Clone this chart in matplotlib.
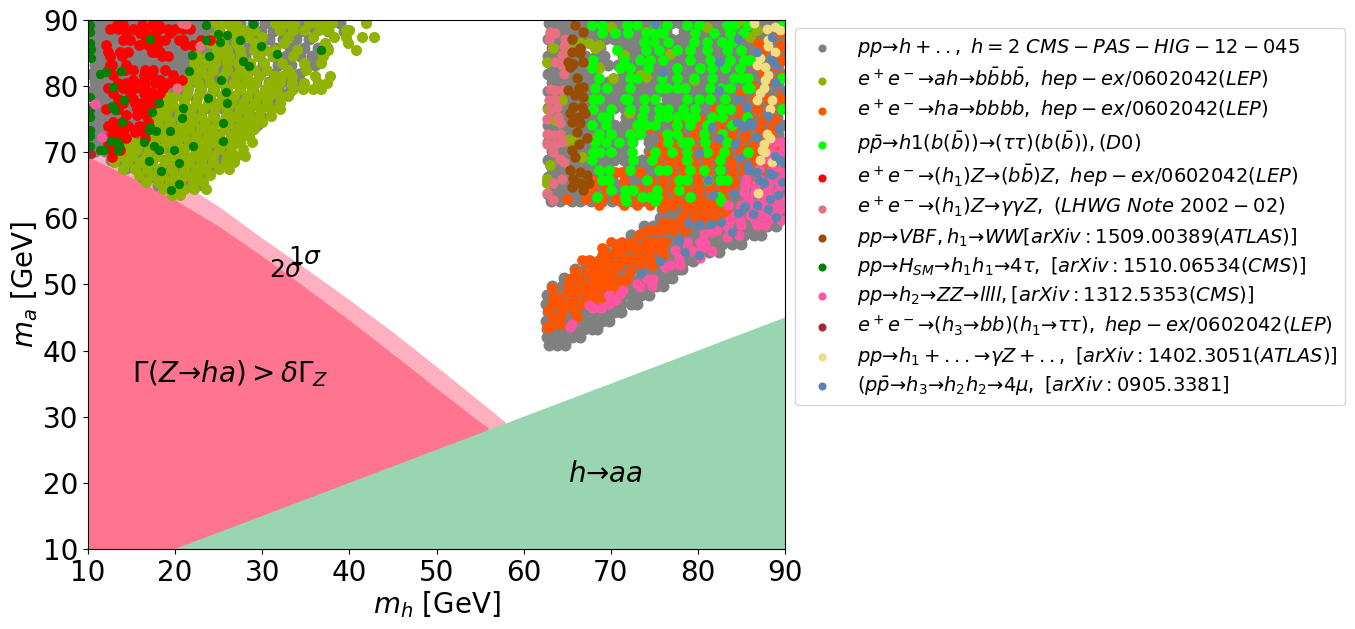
import numpy as np
import matplotlib
matplotlib.use('Agg')
import matplotlib.pyplot as plt

# excluded regions, boundaries
sigma1_x = [10, 15, 20, 25, 30, 35, 40, 45, 50, 55, 57.9]
sigma1_y = [71, 69, 66, 61.8, 57, 52.4, 47.7, 42.8, 37.6, 32.3, 29.2]
sigma2_x = [10, 15, 20, 25, 30, 35, 40, 45, 50, 55, 55.9]
sigma2_y = [69.3, 66.2, 62.8, 58.8, 54.3, 49.5, 44.6, 39.5, 34.3, 29.2, 28.4]
haa_x = [20, 90, 90]
haa_y = [10, 45, 10]

# points by row, {m_a: [m_h, ...]}
gray_left = {
    89.6: [10.4, 11.5, 12.6, 13.7, 14.8, 15.8, 16.9, 18, 19.1, 20.2, 21.2, 22.3, 23.4, 24.5, 25.9, 27.4, 28.9, 30.3, 31.8, 33.3, 34.7, 36.2, 38.9],
    88.4: [10.8, 11.9, 13, 14.1, 15.2, 16.2, 17.3, 18.4, 19.5, 20.6, 21.6, 22.7, 23.8, 25, 26.6, 28.3, 29.8, 31.2, 32.9, 34.4, 36, 37.6, 39.4],
    87.1: [10.4, 11.5, 12.6, 13.7, 14.8, 15.8, 16.9, 18, 19.1, 20.2, 21.2, 22.3, 23.4, 24.6, 26, 27.6, 29.2, 30.8, 32.4, 33.9, 35.4],
    85.8: [10.8, 11.9, 13, 14.1, 15.2, 16.2, 17.3, 18.4, 19.5, 20.6, 21.6, 22.7, 23.8, 25.2, 26.8, 28.4, 30, 31.5, 33.2, 34.8, 36.4, 37.4],
    84.5: [10.4, 11.5, 12.6, 13.7, 14.8, 15.8, 16.9, 18, 19.1, 20.2, 21.2, 22.3, 23.4, 24.8, 26.4, 28, 29.6, 31.2, 32.7, 34.3, 35.7, 36.6],
    83.2: [10.8, 11.9, 13, 14.1, 15.2, 16.2, 17.3, 18.4, 19.5, 20.6, 21.6, 22.7, 23.8, 25.4, 27, 28.5, 30.1, 31.8, 33.3, 34.9, 36],
    81.9: [10.4, 11.5, 12.6, 13.7, 14.8, 15.8, 16.9, 18, 19.1, 20.2, 21.2, 22.3, 23.6, 25, 26.5, 28.1, 29.7, 31.3, 32.8, 34.2],
    80.6: [10.8, 11.9, 13, 14.1, 15.2, 16.2, 17.3, 18.4, 19.5, 20.6, 21.8, 23.2, 24.7, 26.2, 27.7, 29.3, 30.8, 32.3, 33.6],
    79.3: [10.4, 11.5, 12.6, 13.7, 14.8, 15.8, 16.9, 18, 19.1, 20.2, 21.4, 22.8, 24.4, 25.8, 27.4, 28.9, 30.4, 31.9, 33.2],
    78: [10.8, 11.9, 13, 14.1, 15.2, 16.2, 17.3, 18.4, 19.6, 21, 22.4, 24, 25.5, 27, 28.6, 30.1, 31.4],
    76.7: [10.4, 11.5, 12.6, 13.7, 14.8, 15.8, 16.9, 18, 19.4, 20.9, 22.4, 23.9, 25.4, 26.9, 28.4, 29.8, 31],
    75.4: [10.8, 11.9, 13, 14.1, 15.2, 16.2, 17.3, 18.6, 20, 21.5, 23, 24.5, 26, 27.5, 28.9, 30],
    74.1: [10.4, 11.5, 12.6, 13.7, 14.8, 15.8, 16.9, 18.2, 19.7, 21.2, 22.7, 24.2, 25.7, 27.2, 28.6, 29.4],
    72.8: [10.8, 11.9, 13, 14.1, 15.2, 16.2, 17.4, 18.9, 20.4, 21.9, 23.4, 24.9, 26.4, 27.6],
    71.5: [10.4, 11.5, 12.6, 13.7, 14.8, 15.8, 17, 18.5, 20, 21.5, 23, 24.5, 26, 27],
    70.2: [10.8, 11.9, 13, 14.1, 15.2, 16.4, 17.9, 19.4, 20.9, 22.4, 23.9, 25.4, 26.2],
    68.9: [12.6, 13.7, 14.8, 16, 17.4, 18.9, 20.4, 21.9, 23.4, 24.9],
    67.6: [14.4, 15.6, 17, 18.5, 20, 21.5, 23, 24.2],
    66.3: [16.2, 17.6, 19, 20.4, 21.8, 23],
    65: [18, 19.2, 20.4, 21.6, 22.6],
}
gray_right = {
    89.6: [62.9, 64, 65.1, 66.1, 67.2, 68.3, 69.4, 70.4, 71.5, 72.6, 73.6, 74.7, 75.8, 76.9, 78, 79, 80.1, 81.2, 82.3, 83.3, 84.4, 85.5, 86.5, 87.6, 88.7, 89.7],
    88.4: [63.2, 64.4, 65.5, 66.6, 67.6, 68.7, 69.8, 70.9, 72, 73, 74.1, 75.2, 76.3, 78.4, 79.5, 80.6, 81.7, 82.7, 83.8, 84.9, 86, 87, 88.1, 89.2],
    87.1: [62.8, 63.9, 65, 66.1, 67.2, 68.2, 69.3, 70.4, 71.5, 72.5, 73.6, 74.7, 75.8, 76.9, 77.9, 79, 80.1, 81.2, 82.2, 83.3, 84.4, 85.5, 86.5, 87.6, 88.7, 89.8],
    85.8: [63.2, 64.3, 65.4, 66.5, 68.8, 71, 72.1, 73.1, 74.2, 75.3, 76.4, 77.4, 78.5, 79.6, 80.7, 81.7, 82.8, 83.9, 85, 86, 87.1, 88.2, 89.3],
    84.5: [62.8, 63.9, 65, 66.1, 67.1, 68.3, 69.2, 71.4, 72.5, 73.6, 74.7, 75.8, 76.8, 77.9, 79, 80.1, 81.2, 82.2, 83.3, 84.4, 85.5, 86.5, 87.6, 88.7, 89.8],
    83.2: [63.2, 64.3, 65.4, 66.5, 67.6, 68.6, 69.7, 70.8, 71.9, 73, 74, 75.1, 76.2, 77.3, 78.4, 79.4, 80.5, 81.6, 82.7, 83.8, 84.8, 85.9, 87, 88.1, 89.2],
    81.9: [62.8, 63.9, 65, 66.1, 67.1, 68.2, 71.4, 72.5, 73.6, 74.6, 75.7, 76.8, 77.9, 79, 80, 81.1, 82.2, 83.3, 84.4, 85.4, 86.5, 87.6, 88.7, 89.8],
    80.6: [63.2, 64.3, 65.4, 66.5, 67.6, 68.7, 69.7, 70.8, 71.9, 73, 74.1, 75.1, 76.2, 77.3, 78.4, 79.5, 80.5, 81.6, 82.7, 83.8, 84.9, 85.9, 87, 88.1, 89.2],
    79.3: [62.8, 63.9, 65, 66.1, 67.2, 68.2, 69.3, 70.4, 71.5, 72.6, 73.6, 74.7, 75.8, 76.9, 78, 79, 80.1, 81.2, 82.3, 83.4, 84.4, 85.5, 86.6, 87.7, 88.8, 89.8],
    78: [63.2, 64.3, 65.4, 66.5, 67.6, 68.6, 69.7, 70.8, 71.9, 73, 74, 76.5, 77.3, 78.4, 79.4, 80.5, 81.6, 82.7, 83.8, 84.8, 85.9, 87, 88.1, 89.2],
    76.7: [62.8, 63.9, 65, 66.1, 67.2, 68.2, 69.3, 70.4, 71.5, 72.6, 73.6, 74.7, 75.8, 76.9, 78, 79, 80.1, 81.2, 82.3, 83.4, 84.4, 85.5, 86.6, 87.7, 88.8, 89.8],
    75.4: [63.2, 64.3, 65.4, 66.5, 67.6, 68.6, 69.7, 71.8, 72.9, 74, 75.1, 76.2, 77.2, 78.3, 79.4, 80.5, 81.6, 82.6, 83.7, 84.8, 85.9, 87, 88, 89.1],
    74.1: [62.8, 63.9, 65, 66.1, 67.2, 68.2, 69.3, 70.4, 71.5, 72.6, 73.6, 74.7, 75.8, 76.9, 78, 79, 80.1, 81.2, 82.3, 83.4, 84.4, 85.5, 86.6, 87.7, 88.8, 89.8],
    72.8: [63.2, 64.3, 65.4, 66.5, 67.6, 68.6, 69.7, 70.8, 71.9, 73, 74, 75.1, 76.2, 77.3, 78.4, 79.4, 80.5, 81.6, 82.7, 83.8, 84.8, 85.9, 87, 88.1, 89.2],
    71.5: [62.8, 63.9, 65, 66.1, 67.2, 68.2, 69.3, 70.4, 71.5, 72.4, 74.4, 75.5, 76.6, 77.7, 78.7, 79.8, 80.9, 82, 83.1, 84.1, 85.2, 86.3, 87.4, 88.5, 89.6],
    70.2: [63.2, 64.3, 65.4, 66.5, 67.6, 68.6, 69.7, 70.8, 71.9, 74.4, 75.1, 76.2, 77.3, 78.4, 79.4, 80.5, 81.6, 82.7, 83.8, 84.8, 85.9, 87, 88.1, 89.2],
    68.9: [62.8, 63.9, 65, 66.1, 67.2, 68.2, 69.3, 70.4, 71.5, 72.6, 73.6, 74.7, 75.8, 76.9, 78, 79, 80.1, 81.2, 82.3, 83.4, 84.4, 85.5, 86.6, 87.7, 88.8, 89.8],
    67.6: [63.2, 64.3, 65.4, 66.5, 67.6, 68.6, 69.7, 72, 73, 74, 75.1, 76.2, 77.3, 78.4, 79.4, 80.5, 81.6, 82.7, 83.8, 84.8, 85.9, 87, 88.1, 89.2],
    66.3: [62.8, 63.9, 65, 66.1, 67.2, 68.2, 69.3, 70.2, 71.8, 72.6, 73.6, 74.7, 75.8, 76.9, 78, 79, 80.1, 81.2, 82.3, 83.4, 84.4, 85.5, 86.6, 87.7, 88.8, 89.8],
    65: [63.2, 64.3, 65.4, 66.5, 67.6, 68.6, 69.7, 70.8, 71.9, 73, 74, 75.1, 76.2, 77.3, 78.4, 79.4, 80.5, 81.6, 82.7, 83.8, 84.8, 85.9, 87, 88.1, 89.2],
    63.7: [62.8, 63.9, 65, 66.1, 67.2, 68.2, 69.3, 70.4, 71.5, 72.6, 73.6, 74.7, 75.8, 76.9, 78, 79, 80.1, 81.2, 82.3, 83.4, 84.4, 85.5, 86.6, 87.7, 88.8, 89.8],
    62.6: [63.1, 64.2, 65.6, 66.5, 67.7, 69, 70.1, 71.2, 72.4, 73.5, 74.6, 75.6, 76.7, 77.8, 78.9, 80, 81, 82.1, 83.2, 84.3, 85.4, 86.4, 87.5, 88.6, 89.7],
    61.4: [75.9, 77, 78.1, 79.2, 80.2, 81.3, 82.4, 83.5, 84.6, 85.6, 86.7, 87.8, 88.9, 89.9],
    60.1: [75.7, 76.6, 77.7, 78.8, 79.8, 80.9, 82, 83.1, 84.2, 85.2, 86.3, 87.4, 88.5, 89.6],
    58.8: [73.8, 74.9, 76, 77.1, 78.2, 79.2, 80.3, 81.4, 82.5, 83.6, 84.6, 85.7, 86.8, 87.9, 89],
    57.5: [72.3, 73.4, 74.5, 75.6, 76.7, 77.7, 78.8, 79.9, 81, 82, 83.1, 84.2, 85.3, 86.4, 87.2],
    56.2: [70.9, 72, 73.1, 74.2, 75.2, 76.3, 77.4, 78.5, 79.6, 80.6, 81.7, 82.8, 83.9, 85],
    54.9: [69.4, 70.5, 71.6, 72.7, 73.8, 74.8, 75.9, 77, 78.1, 79.2, 80.2, 81.3, 82.4],
    53.6: [67.6, 68.7, 69.8, 70.9, 72, 73, 74.1, 75.2, 76.3, 77.4, 78.4, 79.4],
    52.3: [65.9, 67, 68.1, 69.2, 70.2, 71.3, 72.4, 73.5, 74.6, 75.6, 76.7, 77.8, 78.2],
    51: [64.6, 65.7, 66.8, 67.9, 68.9, 70, 71.1, 72.2, 73.3, 74.3, 75.4, 76.4, 77],
    49.7: [63.3, 64.4, 65.5, 66.6, 67.6, 68.7, 69.8, 70.9, 72, 73, 74.1, 75.2, 76],
    48.4: [62.7, 63.8, 64.9, 66, 67, 68.1, 69.2, 70.3, 71.4, 72.4, 73.5, 74.4],
    47.1: [62.6, 63.7, 64.8, 65.8, 66.9, 68, 69.1, 70.2, 71.2, 72.3, 73],
    45.8: [62.8, 63.9, 65, 66, 67.1, 68.2, 69.3, 70.4, 71.2],
    44.5: [62.6, 63.6, 64.6, 65.7, 66.8, 67.9, 69, 69.8],
    43.2: [62.7, 63.7, 64.8, 65.8, 66.9, 67.8, 68.4],
    42: [62.7, 63.6, 64.6, 65.6, 66.5],
    40.8: [62.9, 63.8, 64.8],
}
olive_left = {
    89.5: [24.6, 25.8, 27, 31.5, 32.6, 33.6, 35.4, 36.4, 37, 38, 41.9],
    88.5: [25, 26.5, 27.8, 29, 32, 33.5, 34.8, 36.5, 37.6, 39.6, 40],
    87.5: [24.5, 25.5, 27, 28.5, 30, 33, 35.8, 38.2, 39.6, 41.5, 42.8],
    86.5: [24, 25.5, 27, 29.2, 32.5, 37.2, 39.8],
    85.5: [24.8, 26, 27.5, 29, 30.3, 31.5, 34, 37.6, 40.8],
    84.5: [22.5, 23.8, 25, 26.2, 27.6, 29.5, 31.2, 33.5, 37],
    83.5: [22.2, 23.4, 24.6, 26, 27.2, 28.6, 30.2, 32.3, 34.8, 36.8],
    82.5: [22, 23, 24.4, 26, 27.4, 29, 30.5, 33, 35],
    81.5: [21.6, 22.5, 23.8, 25.5, 27, 28.3, 29.6, 31.5, 32.3, 33.4, 36, 37.8],
    80.5: [21.4, 22.6, 24, 25.4, 26.8, 28, 29.2, 30.8, 32, 33.4, 34.8, 36.4, 37.4],
    79.5: [21.5, 23, 24.5, 26, 27.4, 28.8, 30.3, 31.6, 33.5, 34.7, 35.8, 36.8],
    78.5: [18.9, 20, 21.2, 22.6, 24, 25.4, 26.8, 28.2, 29.6, 30.8, 32, 33],
    77.5: [18.4, 19.6, 21, 22.4, 23.8, 25, 26.4, 27.8, 29.2, 30.6, 32],
    76.5: [18, 19.2, 20.4, 21.8, 23.2, 24.6, 26, 27.4, 28.6, 29.8, 31, 32],
    75.5: [17.8, 19, 20.4, 21.8, 23, 24.4, 25.8, 27, 28.4, 29.6, 31],
    74.5: [18, 19.4, 20.8, 22, 23.4, 24.8, 26.2, 27.6, 28.8, 30],
    73.5: [17.6, 19, 20.4, 21.6, 23, 24.2, 25.6, 27, 28.2, 29],
    72.5: [17.2, 18.4, 19.8, 21, 22.4, 23.8, 25, 26.4, 27.6, 28.5],
    71.5: [15, 16.2, 17.6, 19, 20.2, 21.6, 23, 24.2, 25.6, 26.6, 27.5, 28.8],
    70.5: [14.4, 15.6, 17, 18.4, 19.8, 21, 22.4, 23.6, 25, 26.4, 27.8],
    69.5: [13.8, 15, 16.6, 18, 19.4, 20.8, 22, 23.2, 24.4, 26, 27, 28],
    68.5: [13, 14.5, 16, 17.4, 18.8, 20.2, 21.6, 23, 24.4, 25.8, 26.8],
    67.5: [14, 15.4, 16.8, 18.2, 19.6, 21, 22.4, 23.6, 25, 26.2],
    66.5: [15.8, 17.2, 18.6, 20, 21.4, 22.6, 24],
    65.5: [16.6, 18, 19.4, 20.6, 22, 23.2],
    64.5: [18.6, 19.8, 21, 22.2, 23.6],
    63.5: [19.6, 20.6],
}
olive_x = [63.4, 62.65, 62.85, 63.05, 62.65, 62.65, 64.4, 65.35, 66.5, 68.6, 68.2, 70, 67.45, 68.6, 70.3, 71.5, 74, 74, 73.4, 76.8, 72.05, 79.5, 65.75, 68.4, 63.6, 65.15, 66.7, 86.8, 81, 84.5, 86, 85.25]
olive_y = [85.7, 83.7, 76.6, 68.05, 65.3, 66, 77.9, 85.45, 86.45, 86.2, 85.7, 89, 86.45, 82.7, 81.2, 84.7, 88.2, 81.4, 81.7, 84.9, 75.9, 80.9, 71.8, 72.3, 74.85, 71.8, 69.3, 88.5, 89, 89.7, 87.5, 90]
orange_rows = {
    88: [89.5], 87.5: [88.5], 86.5: [86.9], 86: [89.5], 85.5: [87.5], 85: [88.8], 84: [89.6], 83.5: [86.5], 83: [88.7], 82: [87.5],
    81.5: [89.7], 81: [88.5], 80: [86.3], 79: [85, 89.6],
    78: [85, 86.5, 88, 89.5],
    76.5: [82, 83.5, 85, 86.8, 88.3, 89.5],
    75: [77.3, 78.8, 80.3, 81.7, 83, 84.5, 86, 87.5, 88.8],
    73.7: [73, 74.5, 77.6, 79.6, 81, 82.5, 84, 85.5, 87, 88.5],
    72.4: [76, 78, 79.6, 80.8, 82.4, 83.8, 85.4, 87, 88.4],
    71: [75.8, 77.4, 79.2, 80.6, 82, 83.4, 84.8, 86.3, 87.8, 89],
    69.7: [74.6, 76.2, 77.6, 79, 80.4, 81.8, 83.4, 84.8, 86.2, 87.6, 89],
    68.4: [75.4, 76.8, 78, 79.6, 81, 82.4, 83.8, 85.2, 86.6, 88],
    67: [70.5, 71.2, 73.4, 75.8, 77, 78.4, 79.8, 81.2, 82.6, 84, 85.4, 87],
    65.7: [68, 69, 71.5, 74.6, 76, 77.4, 78.8, 80, 81.4, 82.8, 84.2, 85.6],
    64.4: [67.8, 69.4, 71.8, 73.2, 74.6, 75.9, 77.2, 78.6, 80, 81.4, 82.8, 84],
    63: [65, 67.2, 69, 70.6, 72, 73.4, 74.8, 76.2, 77.6, 79, 80.4, 81.8, 83],
    62: [68.6, 71.5, 73, 74.5, 76, 77.2, 78.6, 80, 81.4, 83],
    61.5: [76, 78.7, 79.9, 81, 82.2, 83.3],
    60.25: [78.2, 79.5, 80.65, 81.8, 83],
    59.25: [76.05, 76.8, 78],
    58.2: [74.3, 75.1, 75.9, 77.2, 78.55],
    57.7: [73.4],
    56.5: [70, 71.3, 72.6, 74, 74.7, 75.5, 76.25],
    55.5: [69, 70.7, 71.85, 73, 74, 75.1, 75.9],
    54.45: [69, 70, 71.1, 73, 74.3, 76.05],
    53.7: [66.7, 67.45, 68.6, 69.55, 71.45, 72.2, 73.4, 74.5],
    53: [68, 69, 70.1, 70.9, 73.4, 74.7],
    52: [65.9, 67.25, 68.4, 69.4, 70.3, 72.2],
    50.9: [65.35, 66.5, 68, 69, 70, 71.3, 71.85],
    49.9: [65.15, 67.45, 68.4, 69.4, 70.7, 71.3],
    49.4: [63.25, 65.5, 66.5, 67.65, 68.8, 69.75],
    48.9: [64.95, 66.1, 67.25, 68.2, 70.3],
    47.9: [63.4, 64, 65.75, 67.25, 68.4, 69.4],
    47.1: [63.4, 64.6, 65.35, 66.7, 68],
    46.1: [62.85, 64.4, 65.75],
    45.1: [63.25, 64.2, 66.1],
    44.1: [64.2],
    43.6: [62.65, 63.05],
}
lime_rows = {
    89.2: [67.8, 69, 71.85, 73, 75.1, 76.4, 78.7, 80.1, 83.3, 84.1, 85.8, 89.8],
    88: [69, 70.5, 72, 74, 75.1, 76.05, 79.7, 81.8, 83.7, 85.2],
    86.7: [73.8, 75, 76.6, 79.5, 81, 83.9, 82.75],
    85.45: [70.7, 74, 75.5, 77.6, 79.1, 81, 83.3, 84.9],
    83.9: [68, 71.5, 73.4, 74.5, 76.05, 79.1, 81.4, 83.7, 85.25, 86],
    82.7: [67.8, 71.1, 72.2, 74.3, 77.6, 80.3, 81.6, 83.1, 84.85],
    81.2: [68.6, 72.2, 73, 75.9, 77.6, 79.5, 81.6, 84.1, 85.05, 85.8, 89.6],
    79.65: [68.2, 69.55, 72.2, 75.7, 76.45, 77.6, 78.55, 81.4, 82.6, 83.7, 85.6, 86],
    78.1: [68, 68.6, 71.65, 72, 75.1, 73.8, 78.7, 80.1, 81.4, 83.1],
    76.6: [68, 70, 72.2, 73.8, 75.5, 76.6, 78.35, 79.7, 82.6, 83.7, 89.6],
    75.4: [69, 69.55, 73.55, 75.5, 76.45, 77.6, 78.7, 79.7, 81.6, 82.75, 85.6],
    74.1: [67.8, 69.4, 73, 74, 75.1, 77.6, 79.1, 81, 83.9],
    72.8: [68.6, 70, 72.2, 73.4, 76.45, 77.6, 80.65, 82.75],
    71.6: [68.2, 69.4, 70.9, 72.4, 76.6, 78.2, 79, 80.85, 83.3],
    70.05: [68, 68.8, 70, 72.4, 75.1, 77, 78.7, 81, 82.95, 85.8],
    68.8: [67.8, 72.6, 74.7, 82.55, 78.7],
    67.3: [68.6, 69.75, 72.2, 75.5, 76.45, 79.1, 80.65, 82.55],
    65.8: [69, 69.75, 74.15, 77.8, 78.7, 81.2, 82.55, 83.3],
    64.3: [70, 71.65, 72.6, 75.3, 77.8],
    63.25: [68.4, 71.65, 73.55, 74.5, 75.3, 79.1, 82.4],
    62.7: [71.8, 75.1, 82.6],
}
red_rows = {
    89.2: [13.3, 14, 16.2, 17.3, 18.1],
    88.7: [12.5, 13.5, 15.2, 16.2, 18.1, 19.2, 20, 20.9, 21.7],
    88: [14.4, 16, 16.5, 17.7, 19.4],
    87: [14.8, 14, 16.7, 18, 18.8, 20.4, 20.9, 23, 24],
    86.2: [12.1, 15.8, 16.9, 17.9, 21.1, 22.1],
    85.2: [12.3, 13.7, 14.6, 17.3, 18.3, 17.7],
    84.5: [12.5, 13.9, 18.5, 19.2],
    83.2: [12.5, 14.4, 12.7],
    82.4: [12.3, 14.2, 15.2, 16.5, 17.5, 18.8],
    81.7: [12.9, 16.4, 17.3, 19.8],
    80.9: [15.2, 16.4, 18.3, 20.8],
    80.4: [13.5, 14.4, 15.4, 16.5, 17.7, 19.2, 20],
    79.7: [12.3, 14, 15.4, 16.5, 18.6],
    78.9: [12.9, 14.8, 16.4, 17.3, 18.3],
    78.1: [13.5, 15.2, 16.9, 17.9],
    77.4: [14, 15.4, 16.2, 17.1, 17.7],
    76.6: [12.1, 13.5, 15.6, 16.5],
    75.6: [14.4, 15.6, 16.7],
    74.6: [12.9, 13.9, 16.9],
    73.9: [12.3, 13.3, 14.6, 15.8, 16.7],
    73.1: [12.9, 14, 15.4, 16.4],
    72.1: [12.1, 13.3, 14.4, 16.5],
    71.3: [12.3, 13.1],
    70.3: [12.7, 13.7],
    69.3: [12.7],
}
salmon_x = [63, 63.6, 62.9, 64.8, 64.6, 64.4, 63.6, 64.4, 64.6, 63, 63.6, 64.4, 62.9, 63.6, 63.8, 63.05, 62.7, 64, 64.2, 62.7, 63.4, 64.2, 62.7, 63.6, 64.4, 63.4, 64.2, 64.6, 63.4, 64.4, 62.7, 63.4, 20.75, 21.3, 20.2, 22.8]
salmon_y = [88.2, 88, 87.2, 87.2, 86, 84.7, 83.7, 83.2, 81.9, 79.6, 79.4, 79.4, 77.9, 78.1, 76.9, 76.4, 75.1, 75.4, 74.4, 72.8, 72.6, 72.8, 71.3, 71.3, 71.6, 70, 69, 68.55, 65.3, 66, 63.8, 62.8, 89.5, 89.4, 79.7, 86]
brown_x = [65.9, 66.87, 65.53, 65.53, 66.5, 66.5, 65.15, 65.7, 66.87, 65.35, 66.1, 65.15, 66.3, 66.87, 65.9, 66.87, 65.7, 66.7, 65.35, 66.3, 67.06, 65.53, 66.5, 66.1, 67.26, 66.3, 65.53, 65.9, 65.35, 66.5, 65.7, 67.26, 66.5, 67.45, 65.53, 66.87]
brown_y = [89.2, 88.2, 87.2, 85.2, 85.7, 85, 83.7, 83.4, 83.7, 82.9, 81.2, 79.4, 79.65, 79.9, 78.6, 78.4, 76.9, 76.9, 75.9, 75.4, 75.9, 74.6, 74.35, 73.1, 72.1, 71.3, 70.3, 69.3, 67.3, 67, 66, 66.5, 65.3, 65.3, 64.8, 64.3]
green_x = [10.2, 10.2, 10.2, 10.3, 10.4, 10.2, 10.2, 10.2, 10.2, 10.2, 10.2, 11.4, 12.1, 13.8, 12.9, 14.1, 12.8, 13.1, 13.85, 12.5, 13.3, 13.6, 13.5, 11.4, 11.8, 17.1, 23.55, 24.9, 26, 25.1, 23.6, 28.98, 27.5, 29.9, 31.7, 36.8, 21.9, 23.9, 27.8, 28.5, 21.6, 25.3, 25.8, 23.8, 26, 18.15, 17.4, 20.9, 20.8, 25.5, 17.1, 17, 17.8, 19.45, 16.4, 17.6, 18.15, 19.9, 22, 25.55, 17, 20.4, 18.4, 20.5, 19.5]
green_y = [89.2, 88.2, 86.5, 85.55, 84.3, 78.4, 76.4, 75.4, 73.4, 72.4, 70.9, 81.8, 82.1, 82.3, 79.8, 77.9, 77, 76.4, 74.5, 71.7, 71.6, 71.1, 70.3, 70.3, 70.4, 87.2, 89.2, 87.9, 87.8, 86.7, 87, 89.4, 86.9, 86.1, 84.8, 85.5, 84.7, 84.55, 83.85, 83.1, 82.3, 80.9, 79.05, 78.25, 77.4, 77.4, 76.1, 76.75, 75.2, 74.45, 73.85, 73.35, 73.2, 73.15, 71.6, 70.9, 70.4, 70.4, 71, 71.65, 68.7, 68.35, 67.2, 65.2, 64.3]
pink_rows = {
    71.5: [89.5, 88.7], 70: [89.6, 88.5], 69: [89.2, 87.8], 67.5: [87, 88.5, 89.6],
    66: [85.5, 87, 88.5, 89.7], 65: [85.4, 86.6, 88, 89.4], 64: [85.3, 86.5, 87.8, 89],
    63: [85.8, 87.2, 88.4, 89.7], 62: [83.5, 85, 86.3, 87.7, 89],
    61.5: [85, 86.6, 88.2, 89.6], 60.5: [84.3, 86, 87.5, 89], 59.7: [83.7, 84.8, 86.5, 88, 89.5],
    59: [83.3, 85, 86.8, 87.7], 58.7: [83.5], 58.2: [82.2], 58: [81.6], 57.7: [80.65], 57.5: [84.7], 57.2: [83.3],
    56.5: [78.7, 80.3], 56.2: [80.85], 55.5: [80.45, 78.7], 55.2: [77.4], 55: [79.3, 81.6],
    54: [77.8, 80.3], 53: [76.8, 78], 52.6: [76.25], 50.9: [74.15, 74.85], 50: [73], 49.8: [74.7], 49.65: [73.4],
    49.15: [71.4], 48.55: [71.1], 48.4: [69.8], 47.6: [70.6], 47.1: [69.8], 46.9: [67.45], 46.4: [68, 68.9],
    44.1: [65.5], 43.5: [65.35], 77.3: [10.8], 72.35: [11.6],
}
darkred_x = [10.4]
darkred_y = [69.7]
khaki_x = [86.4, 87.95, 88.9, 89.45, 88.1, 87.15, 86.8, 87.7, 88.9, 88.1, 88.1, 87.7, 87.55, 87.15, 86.8, 88.5, 88.3, 87.9, 87.55, 88.3, 87.35, 87.7, 87.15, 88.5, 86.95]
khaki_y = [89.5, 88.7, 89, 88.5, 87, 84.2, 83.2, 82.9, 85.2, 86, 81.7, 80.9, 79.65, 78.9, 77.9, 77.9, 76.6, 72.8, 71.3, 72.1, 70.3, 70.1, 68.8, 68.55, 63.8]
blue_x = [75.1, 84.55, 88.5, 86.8, 82.4, 75.9, 88.5, 88.9, 88.9, 90, 82.45, 84.8, 85.55, 88, 84.5, 85.25, 86, 86.2, 89.3, 81.6, 86.8, 82.4, 84.3, 80.1, 84.8, 88.9, 89.45, 89.85, 85.8, 85.8, 86.8, 88.3, 87, 87.55, 88.5, 81.2, 89.65, 84.1, 81.7, 85.25, 86.8, 88.3, 89.25, 85.45, 88.1, 89, 84.55, 86.3, 78.85, 80.15, 81.5, 82.65, 83.9, 77.8, 78.5, 80.15, 75.7, 73.5]
blue_y = [89.4, 87.1, 87.5, 85.1, 83.7, 82.2, 83.9, 83.2, 80.6, 79.4, 79.4, 78, 76.9, 75.5, 74.5, 73.85, 74.6, 74.1, 73.6, 73.75, 72.3, 72.1, 71.3, 69.9, 69.2, 69.5, 68.8, 68.3, 68.05, 67.3, 67.05, 66.8, 65.8, 65.3, 66.5, 65.8, 65.5, 63.8, 63.6, 61.75, 62, 63, 63.5, 61.9, 61.35, 60.15, 60.75, 60.65, 59.35, 59.15, 59.1, 59.4, 58, 56.6, 54.85, 54.4, 53.55, 51.8]

# literal arrows: \to gets extra space around it in mathtext
labels = [
    r'$pp→h + ..,\ h = 2\ CMS-PAS-HIG-12-045$',
    r'$e^+e^-→ah→b\bar{b}b\bar{b},\ hep-ex/0602042(LEP)$',
    r'$e^+e^-→ha→bbbb,\ hep-ex/0602042(LEP)$',
    r'$p\bar{p}→h1(b(\bar{b}))→(\tau\tau)(b(\bar{b})),(D0)$',
    r'$e^+e^-→(h_1)Z→(b\bar{b})Z,\ hep-ex/0602042(LEP)$',
    r'$e^+e^-→(h_1)Z→\gamma\gamma Z,\ (LHWG\ Note\ 2002-02)$',
    r'$pp→VBF,h_1→WW[arXiv:1509.00389(ATLAS)]$',
    r'$pp→H_{SM}→h_1h_1→4\tau,\ [arXiv:1510.06534(CMS)]$',
    r'$pp→h_2→ZZ→llll,[arXiv:1312.5353(CMS)]$',
    r'$e^+e^-→(h_3→bb)(h_1→\tau\tau),\ hep-ex/0602042(LEP)$',
    r'$pp→h_1+...→\gamma Z+..,\ [arXiv:1402.3051(ATLAS)]$',
    r'$(p\bar{p}→h_3→h_2h_2→4\mu,\ [arXiv:0905.3381]$',
]
ticks = [10, 20, 30, 40, 50, 60, 70, 80, 90]


def unpack(rows):
    xs = [x for y in rows for x in rows[y]]
    ys = [y for y in rows for x in rows[y]]
    return xs, ys


gl_x, gl_y = unpack(gray_left)
gr_x, gr_y = unpack(gray_right)
ol_x, ol_y = unpack(olive_left)
or_x, or_y = unpack(orange_rows)
li_x, li_y = unpack(lime_rows)
re_x, re_y = unpack(red_rows)
pi_x, pi_y = unpack(pink_rows)

series = [
    (gl_x + gr_x, gl_y + gr_y, 'gray', 74),
    (ol_x + olive_x, ol_y + olive_y, '#8fb300', 64),
    (or_x, or_y, '#ff5500', 60),
    (li_x, li_y, '#00ff00', 60),
    (re_x, re_y, '#ff0000', 60),
    (salmon_x, salmon_y, '#e6707f', 55),
    (brown_x, brown_y, '#994d00', 55),
    (green_x, green_y, 'green', 45),
    (pi_x, pi_y, '#ff55a3', 55),
    (darkred_x, darkred_y, '#a52a2a', 45),
    (khaki_x, khaki_y, '#f0dc82', 50),
    (blue_x, blue_y, '#5b84b1', 45),
]

fig = plt.figure(figsize=(13.55, 6.29), dpi=100)
ax = fig.add_axes([88 / 1355, 80 / 629, 697 / 1355, 529 / 629])

# pink Z-width regions, then the h->aa wedge on top
ax.fill_between(sigma1_x, sigma1_y, 10, color='#ffb0c0', lw=0)
ax.fill_between(sigma2_x, sigma2_y, 10, color='#ff7590', lw=0)
ax.fill(haa_x, haa_y, color='#98d5b0', lw=0)

for (xs, ys, col, size), lab in zip(series, labels):
    ax.scatter(xs, ys, s=size, c=col, linewidths=0, label=lab)

ax.text(34.9, 54.1, r'$1\sigma$', fontsize=18, ha='center', va='center')
ax.text(32.8, 52.2, r'$2\sigma$', fontsize=18, ha='center', va='center')
ax.text(26.3, 36.6, r'$\Gamma(Z→ha)>\delta\Gamma_Z$', fontsize=20, ha='center', va='center')
ax.text(69.4, 21.3, r'$h→aa$', fontsize=20, ha='center', va='center')

ax.set_xlim(10, 90)
ax.set_ylim(10, 90)
ax.set_xticks(ticks)
ax.set_yticks(ticks)
ax.tick_params(labelsize=20)
ax.set_xlabel(r'$m_h$ [GeV]', fontsize=20, labelpad=2)
ax.set_ylabel(r'$m_a$ [GeV]', fontsize=20, labelpad=2)

leg = ax.legend(loc='upper left', bbox_to_anchor=(795 / 1355, 1 - 28 / 629), bbox_transform=fig.transFigure,
                borderaxespad=0, fontsize=14, handletextpad=0.79, labelspacing=0.31)
for h in leg.legend_handles:
    h.set_sizes([34])
fig.savefig('out.png', dpi=100)
